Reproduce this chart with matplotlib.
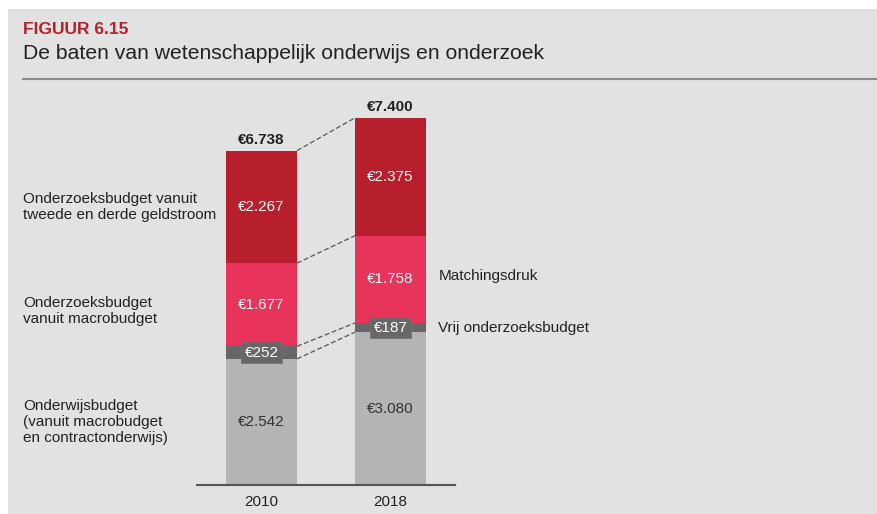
import matplotlib.pyplot as plt
import matplotlib.transforms as mtransforms
from matplotlib.patches import Rectangle
from matplotlib.lines import Line2D
import numpy as np

plt.rcParams['font.family'] = ['Liberation Sans', 'DejaVu Sans']

# data (mln euro)
years = ['2010', '2018']
onderwijs = [2542, 3080]
vrij = [252, 187]
matching = [1677, 1758]
tweede_derde = [2267, 2375]
totals = [6738, 7400]

segments = [onderwijs, vrij, matching, tweede_derde]
colors = ['#b4b4b4', '#676767', '#e8335b', '#b71f2c']
text_colors = ['#333333', 'white', 'white', 'white']

left_labels = ['Onderwijsbudget\n(vanuit macrobudget\nen contractonderwijs)',
               'Onderzoeksbudget\nvanuit macrobudget',
               'Onderzoeksbudget vanuit\ntweede en derde geldstroom']
right_labels = ['Vrij onderzoeksbudget', 'Matchingsdruk']


def euro(v):
    return '€' + f'{v:,}'.replace(',', '.')


W, H = 878, 514
fig = plt.figure(figsize=(W / 100, H / 100), dpi=100)
fig.patch.set_facecolor('white')

# grey panel + rule under the heading
fig.patches.append(Rectangle((8 / W, 0), (W - 8) / W, (H - 9) / H,
                             transform=fig.transFigure, facecolor='#e2e2e2',
                             edgecolor='none', zorder=-10))
fig.lines.append(Line2D([23 / W, 1], [1 - 79 / H] * 2, transform=fig.transFigure,
                        color='#8c8c8c', lw=1.5))

fig.text(23 / W, 1 - 34 / H, 'FIGUUR 6.15', color='#b0232b', fontsize=12.5,
         fontweight='bold', va='baseline')
fig.text(23 / W, 1 - 59 / H, 'De baten van wetenschappelijk onderwijs en onderzoek',
         color='#222222', fontsize=15.2, va='baseline')

ax = fig.add_axes([197 / W, 29 / H, 258 / W, 390 / H])
ax.set_facecolor('none')
ax.set_xlim(-0.5, 1.5)
ax.set_ylim(0, 7860)
for s in ['top', 'left', 'right']:
    ax.spines[s].set_visible(False)
ax.spines['bottom'].set_color('#555555')
ax.spines['bottom'].set_linewidth(1.5)
ax.set_yticks([])
x = np.arange(len(years))
ax.set_xticks(x)
ax.set_xticklabels(years, fontsize=11, color='#222222')
ax.tick_params(axis='x', length=0, pad=7)

bw = 0.55
bottom = np.zeros(len(years))
bounds = []
for i, (vals, col, tc) in enumerate(zip(segments, colors, text_colors)):
    vals = np.array(vals)
    ax.bar(x, vals, bw, bottom=bottom, color=col, edgecolor='none', zorder=2)
    for j in range(len(years)):
        mid = bottom[j] + vals[j] / 2
        if i == 1:
            # small segment: label sits in a box of the same colour
            ax.text(x[j], mid, euro(vals[j]), ha='center', va='center', color=tc,
                    fontsize=11, zorder=4,
                    bbox=dict(boxstyle='square,pad=0.22', facecolor=col,
                              edgecolor='#707070', lw=0.5))
        else:
            ax.text(x[j], mid, euro(vals[j]), ha='center', va='center', color=tc,
                    fontsize=11, zorder=4)
    bottom = bottom + vals
    bounds.append(bottom.copy())

# totals
for j in range(len(years)):
    ax.annotate(euro(totals[j]), (x[j], totals[j]), xytext=(0, 3),
                textcoords='offset points', ha='center', va='bottom',
                fontsize=11, fontweight='bold', color='#222222')

# dashed connectors
base = np.array(onderwijs)
for b in [base, bounds[1], bounds[2], bounds[3]]:
    ax.plot([x[0] + bw / 2, x[1] - bw / 2], [b[0], b[1]], ls=(0, (4, 2)),
            color='#555555', lw=0.9, zorder=1)

# left labels
trans = mtransforms.blended_transform_factory(fig.transFigure, ax.transData)
seg_mid0 = [onderwijs[0] / 2,
            onderwijs[0] + vrij[0] + matching[0] / 2 - 125,
            onderwijs[0] + vrij[0] + matching[0] + tweede_derde[0] / 2]
for lab, y in zip(left_labels, seg_mid0):
    ax.text(23 / W, y, lab, transform=trans, ha='left', va='center',
            fontsize=11, color='#222222', linespacing=1.2)

# right labels
seg_mid1 = [onderwijs[1] + vrij[1] / 2,
            onderwijs[1] + vrij[1] + matching[1] / 2 + 60]
for lab, y in zip(right_labels, seg_mid1):
    ax.annotate(lab, (x[1] + bw / 2, y), xytext=(9, 0), textcoords='offset points',
                ha='left', va='center', fontsize=11, color='#222222')

fig.savefig('out.png', dpi=100)
